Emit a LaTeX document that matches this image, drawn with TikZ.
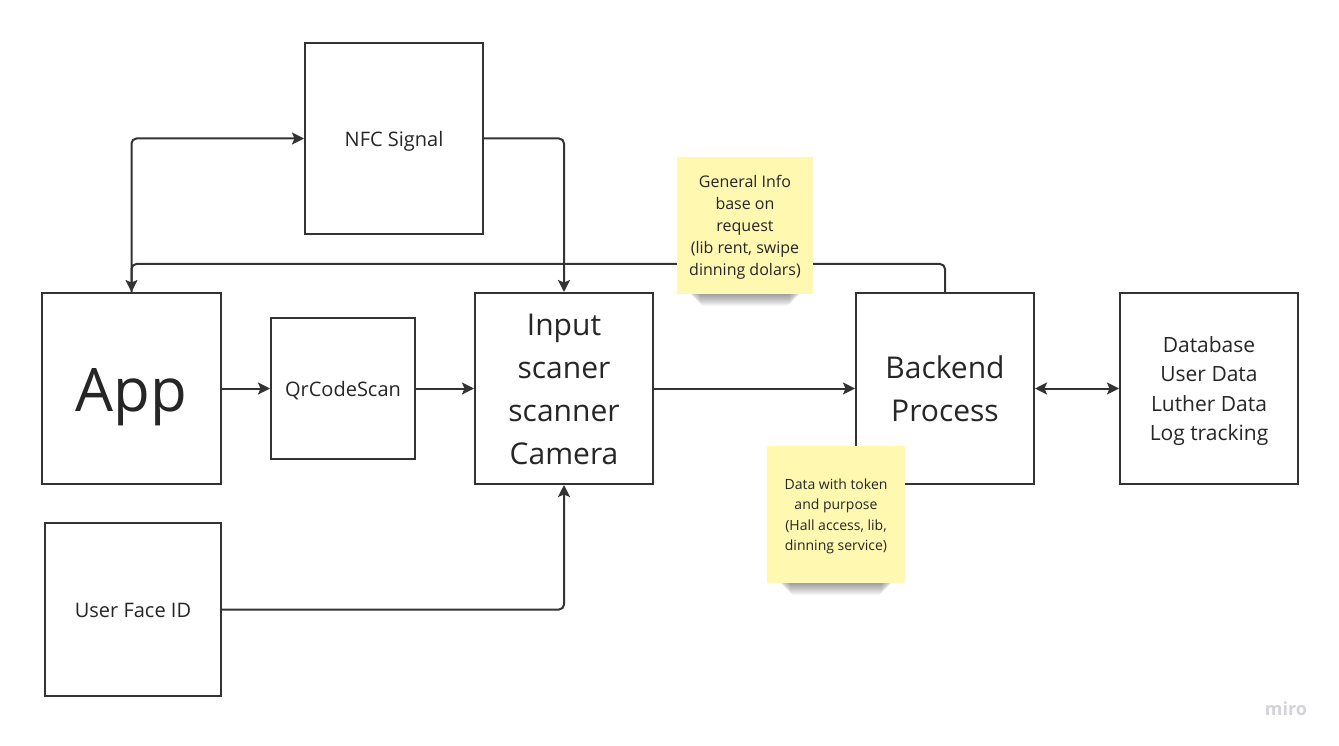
\documentclass[tikz,border=0pt]{standalone}
\usepackage{fontspec}
\setmainfont{Open Sans}
\usetikzlibrary{arrows.meta}
\definecolor{ink}{HTML}{333333}
\definecolor{txt}{HTML}{262626}
\definecolor{sticky}{HTML}{FFF8B0}
\definecolor{wm}{HTML}{D2D2DA}
\newcommand{\ms}{\rule[-0.293em]{0pt}{1.362em}}
\tikzset{
  box/.style={draw=ink, line width=2pt, fill=white, inner sep=0pt, align=center, text=txt},
  conn/.style={draw=ink, line width=2pt, rounded corners=5pt, -{Stealth[length=12pt,width=12pt,inset=2.5pt]}},
  biconn/.style={draw=ink, line width=2pt, {Stealth[length=12pt,width=12pt,inset=2.5pt]}-{Stealth[length=12pt,width=12pt,inset=2.5pt]}},
  note/.style={fill=sticky, inner sep=0pt, align=center, text=txt},
}
\begin{document}
\begin{tikzpicture}[x=1pt,y=-1pt]
\useasboundingbox[fill=white] (0,0) rectangle (1339,746);
% boxes
\node[box, minimum width=178pt, minimum height=191pt, font=\fontsize{20}{27}\selectfont] (nfc) at (394,138.5) {\ms NFC Signal};
\node[box, minimum width=179pt, minimum height=191pt, font=\fontsize{60}{82}\selectfont] (app) at (131.5,388.5) {\ms App};
\node[box, minimum width=144pt, minimum height=141pt, font=\fontsize{20}{27}\selectfont] (qr) at (343,388.5) {\ms QrCodeScan};
\node[box, minimum width=178pt, minimum height=191pt, font=\fontsize{30}{43}\selectfont] (input) at (564,388.5) {\ms Input\\scaner\\scanner\\Camera\ms};
\node[box, minimum width=178pt, minimum height=191pt, font=\fontsize{30}{43}\selectfont] (backend) at (945,388.5) {\ms Backend\\Process\ms};
\node[box, minimum width=178pt, minimum height=191pt, font=\fontsize{21}{29.5}\selectfont] (db) at (1209,388.5) {\ms Database\\User Data\\Luther Data\\Log tracking\ms};
\node[box, minimum width=176pt, minimum height=173pt, font=\fontsize{20}{27}\selectfont] (face) at (133,609.5) {\ms User Face ID};
% connectors
\draw[conn] (app.north) |- (nfc.west);
\draw[conn] (backend.north) -- ++(0,-28) -| (app.north);
\draw[conn] (nfc.east) -| (input.north);
\draw[conn] (face.east) -| (input.south);
\draw[conn] (app.east) -- (qr.west);
\draw[conn] (qr.east) -- (input.west);
\draw[conn] (input.east) -- (backend.west);
\draw[biconn] (backend.east) -- (db.west);
% sticky shadows
\foreach \i in {1,...,18}{
  \fill[black, opacity=0.032, rounded corners=4pt] (684+0.9*\i,280) rectangle (806-0.9*\i,290+0.9*\i);
  \fill[black, opacity=0.032, rounded corners=4pt] (774+0.9*\i,569) rectangle (898-0.9*\i,579+0.9*\i);
}
% sticky notes
\node[note, minimum width=136pt, minimum height=137pt, font=\fontsize{16}{21.9}\selectfont] (n1) at (745,225.5) {\ms General Info\\base on\\request\\(lib rent, swipe\\dinning dolars)\ms};
\node[note, minimum width=138pt, minimum height=137pt, font=\fontsize{14}{20.5}\selectfont] (n2) at (836,514.5) {\ms Data with token\\and purpose\\(Hall access, lib,\\dinning service)\ms};
% watermark
\node[text=wm, font=\fontsize{18}{20}\selectfont\bfseries, inner sep=0pt] (miro) at (1286,709) {miro};
\end{tikzpicture}
\end{document}
